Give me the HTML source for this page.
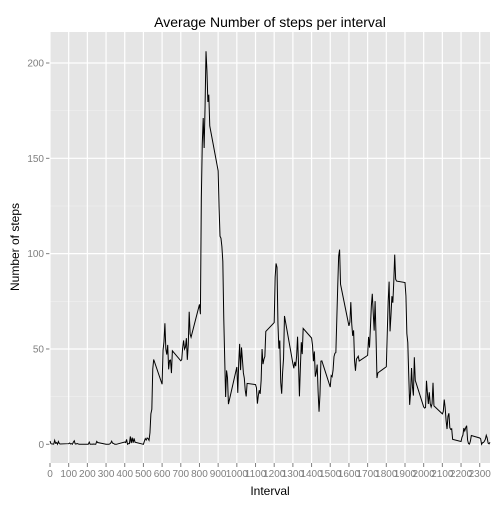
<!DOCTYPE html>
<html><head><meta charset="utf-8"><style>
body{margin:0;background:#fff;font-family:"Liberation Sans",Arial,sans-serif}
</style></head><body>
<svg id="c" width="504" height="504" xmlns="http://www.w3.org/2000/svg"></svg>
<script>
const steps=[1.717,0.340,0.132,0.151,0.075,2.094,0.528,0.868,0,1.472,0.302,0.132,
0.321,0.679,0.151,0.340,0,1.113,1.830,0.170,0.170,0.377,0.264,0,
0,0,1.132,0,0,0.132,0,0.226,0,0,1.547,0.943,
0,0,0,0,0.208,0.623,1.623,0.585,0.491,0.075,0,0,
1.189,0.943,2.566,0,0.340,0.358,4.113,0.660,3.491,0.830,3.113,1.113,
0,1.566,3.0,2.245,3.321,2.962,2.094,6.057,16.019,18.340,39.453,44.491,
31.491,49.264,53.774,63.453,49.962,47.075,52.151,39.340,44.019,44.170,37.358,49.038,
43.811,44.377,50.509,54.509,49.925,50.981,55.679,44.321,52.264,69.547,57.849,56.151,
73.377,68.208,129.434,157.528,171.151,155.396,177.302,206.170,195.925,179.566,183.396,167.019,
143.453,124.038,109.113,108.113,103.717,95.962,66.208,45.226,24.792,38.755,34.981,21.057,
40.566,26.981,42.415,52.660,38.925,50.792,44.283,37.415,34.698,28.340,25.094,31.943,
31.358,29.679,21.321,25.547,28.377,26.472,33.434,49.981,42.038,44.604,46.038,59.189,
63.868,87.698,94.849,92.774,63.396,50.170,54.472,32.415,26.528,37.736,45.057,67.283,
42.340,39.887,43.264,40.981,46.245,56.434,42.755,25.132,39.962,53.547,47.321,60.811,
55.755,51.962,43.585,48.698,35.472,37.547,41.849,27.509,17.113,26.075,43.623,43.774,
30.019,36.075,35.491,38.849,45.962,47.755,48.132,65.321,82.906,98.660,102.113,83.962,
62.132,64.132,74.547,63.170,56.906,59.774,43.868,38.566,44.660,45.453,46.208,43.679,
46.623,56.302,50.717,61.226,72.717,78.943,68.943,59.660,75.094,56.509,34.774,37.453,
40.679,58.019,74.698,85.321,59.264,67.774,77.698,74.245,85.340,99.453,86.585,85.604,
84.868,77.830,58.038,53.358,36.321,20.717,27.396,40.019,30.208,25.547,45.660,33.528,
19.623,19.019,19.340,33.340,26.811,21.170,27.302,21.340,19.547,21.321,32.302,20.151,
15.943,17.226,23.453,19.245,12.453,8.019,14.660,16.302,8.679,7.792,8.132,2.623,
1.453,3.679,4.811,8.509,7.075,8.698,9.755,2.208,0.321,0.113,1.604,4.604,
3.302,2.849,0,0.830,0.962,1.585,2.604,4.698,3.302,0.642,0.226,1.075];
const xTicks=[0,100,200,300,400,500,600,700,800,900,1000,1100,1200,1300,1400,1500,1600,1700,1800,1900,2000,2100,2200,2300];
const yTicks=[0,50,100,150,200];
const NS="http://www.w3.org/2000/svg",svg=document.getElementById('c');
const L=50,R=490,T=32,B=463;
const xs=v=>L+(v/2355)*(R-L);
const ys=v=>444.3-(v/200)*(444.3-63);
function mk(t,a,p){const e=document.createElementNS(NS,t);for(const k in a)e.setAttribute(k,a[k]);(p||svg).appendChild(e);return e;}
const bg=mk('rect',{x:L,y:T,width:R-L,height:B-T,fill:'#e5e5e5'});


for(let i=0;i<yTicks.length;i++){const v=yTicks[i],y=ys(v);
 const g=mk('line',{x1:L,x2:R,y1:y,y2:y,stroke:'#fff','stroke-width':1.2});
 
 
 if(i<yTicks.length-1){const m=mk('line',{x1:L,x2:R,y1:ys(v+25),y2:ys(v+25),stroke:'#f2f2f2','stroke-width':0.5});
 
 }
 mk('line',{x1:L-4,x2:L,y1:y,y2:y,stroke:'#7f7f7f'});
 const t=mk('text',{x:L-6,y:y+3.5,'text-anchor':'end','font-size':10,fill:'#7f7f7f'});t.textContent=v;
 
 }
for(const v of xTicks){const x=xs(v);
 const g=mk('line',{x1:x,x2:x,y1:T,y2:B,stroke:'#fff','stroke-width':1.2});
 
 
 mk('line',{x1:x,x2:x,y1:B,y2:B+4,stroke:'#7f7f7f'});
 const t=mk('text',{x:x,y:B+14,'text-anchor':'middle','font-size':10,fill:'#7f7f7f'});t.textContent=v;
 
 }
let d='';
steps.forEach((v,i)=>{const iv=Math.floor(i/12)*100+(i%12)*5;d+=(i?'L':'M')+xs(iv).toFixed(2)+','+ys(v).toFixed(2);});
const line=mk('path',{d:d,fill:'none',stroke:'#000','stroke-width':1});


const ti=mk('text',{x:270,y:27,'text-anchor':'middle','font-size':14,fill:'#000'});ti.textContent='Average Number of steps per interval';


const xt=mk('text',{x:270,y:495,'text-anchor':'middle','font-size':12,fill:'#000'});xt.textContent='Interval';


const yt=mk('text',{x:0,y:0,'text-anchor':'middle','font-size':12,fill:'#000',transform:'translate(19,247) rotate(-90)'});yt.textContent='Number of steps';


</script>
</body></html>
